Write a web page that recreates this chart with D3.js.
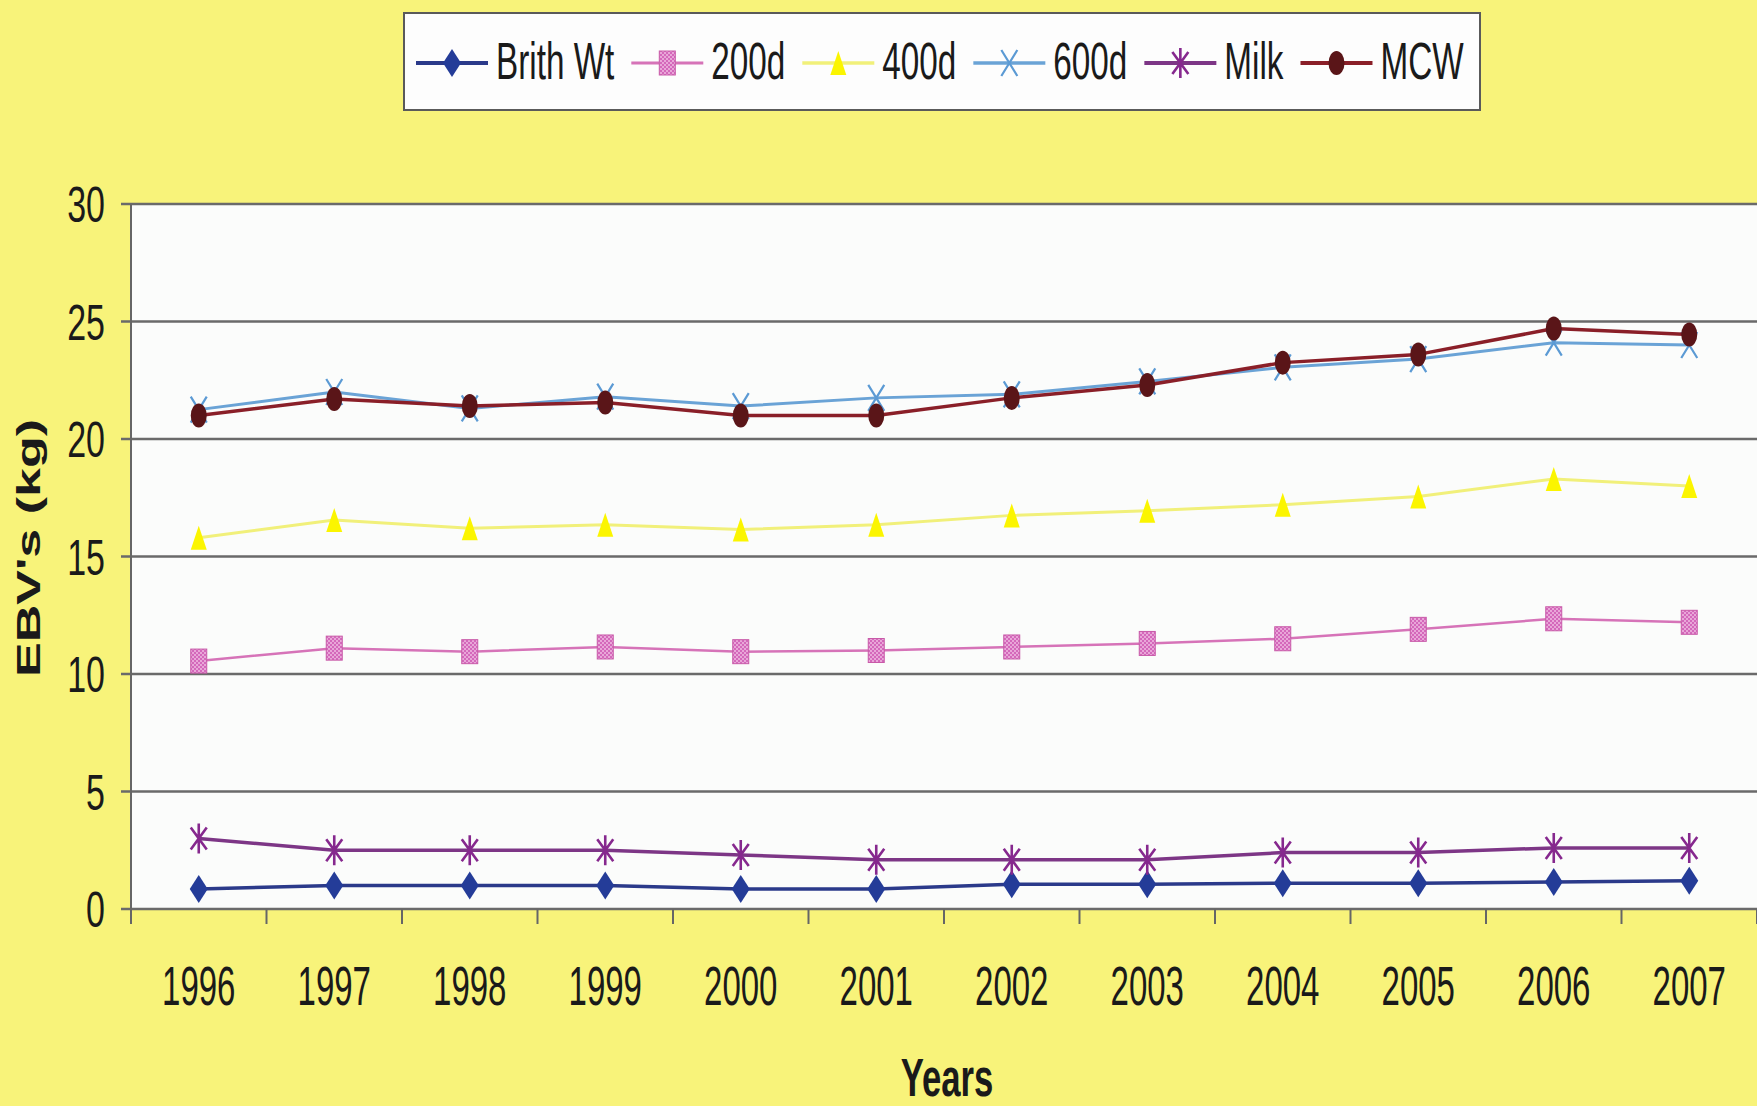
<!DOCTYPE html>
<html>
<head>
<meta charset="utf-8">
<script src="https://cdn.jsdelivr.net/npm/d3@7"></script>
<style>
  html, body { margin: 0; padding: 0; background: #f8f37c; }
  svg { display: block; }
  text { font-family: "Liberation Sans", Arial, sans-serif; fill: #1a1a1a; }
</style>
</head>
<body>
<script>
// ---------- data ----------
const years = ['1996','1997','1998','1999','2000','2001','2002','2003','2004','2005','2006','2007'];
const brithWt = [0.85, 1.0, 1.0, 1.0, 0.85, 0.85, 1.05, 1.05, 1.1, 1.1, 1.15, 1.2];
const d200   = [10.55, 11.1, 10.95, 11.15, 10.95, 11.0, 11.15, 11.3, 11.5, 11.9, 12.35, 12.2];
const d400   = [15.8, 16.55, 16.2, 16.35, 16.15, 16.35, 16.75, 16.95, 17.2, 17.55, 18.3, 18.0];
const d600   = [21.25, 22.0, 21.3, 21.8, 21.4, 21.75, 21.9, 22.45, 23.05, 23.4, 24.1, 24.0];
const milk   = [3.0, 2.5, 2.5, 2.5, 2.3, 2.1, 2.1, 2.1, 2.4, 2.4, 2.6, 2.6];
const mcw    = [21.0, 21.7, 21.4, 21.55, 21.0, 21.0, 21.75, 22.3, 23.25, 23.6, 24.7, 24.45];
const seriesNames = ['Brith Wt', '200d', '400d', '600d', 'Milk', 'MCW'];
const yTicks = [0, 5, 10, 15, 20, 25, 30];
const xTitle = 'Years';
const yTitle = "EBV's (kg)";

// ---------- styles ----------
const seriesData = [brithWt, d200, d400, d600, milk, mcw];
const styles = [
  { line: '#2b3a8a', mark: '#243c98', shape: 'diamond', lw: 3.5 },
  { line: '#d673b8', mark: '#cf62b4', shape: 'square',  lw: 2.5 },
  { line: '#f1f07a', mark: '#fbf500', shape: 'triangle', lw: 3 },
  { line: '#6aa3d6', mark: '#5b9ad4', shape: 'x',       lw: 3 },
  { line: '#7d3686', mark: '#86288e', shape: 'asterisk', lw: 3.5 },
  { line: '#8a1f28', mark: '#5a1518', shape: 'circle',  lw: 3.5 }
];

const W = 1757, H = 1106;
const svg = d3.select('body').append('svg').attr('width', W).attr('height', H);
svg.append('rect').attr('width', W).attr('height', H).attr('fill', '#f8f37a');

const x = d3.scaleBand().domain(years).range([131, 1757]).padding(0);
const bw = x.bandwidth();
const y = d3.scaleLinear().domain([0, 30]).range([909, 204]);
const cx = (i) => x(years[i]) + bw / 2;

// plot area
svg.append('rect')
  .attr('x', x.range()[0]).attr('y', y(30))
  .attr('width', x.range()[1] - x.range()[0]).attr('height', y(0) - y(30))
  .attr('fill', '#fbfcfb');

// gridlines (with outward tick)
svg.append('g').selectAll('line').data(yTicks).join('line')
  .attr('x1', x.range()[0] - 10).attr('x2', x.range()[1])
  .attr('y1', d => y(d)).attr('y2', d => y(d))
  .attr('stroke', '#6a6a6a').attr('stroke-width', 2.5);

// y axis line
svg.append('line')
  .attr('x1', x.range()[0]).attr('x2', x.range()[0])
  .attr('y1', y(30)).attr('y2', y(0) + 15)
  .attr('stroke', '#666').attr('stroke-width', 2);

// x tick marks at category boundaries
const bounds = years.map(d => x(d)).concat([x.range()[1]]);
svg.append('g').selectAll('line').data(bounds).join('line')
  .attr('x1', d => d).attr('x2', d => d)
  .attr('y1', y(0)).attr('y2', y(0) + 15)
  .attr('stroke', '#666').attr('stroke-width', 2);

// y labels
svg.append('g').selectAll('text').data(yTicks).join('text')
  .attr('transform', d => `translate(105,${y(d)}) scale(0.68,1)`)
  .attr('y', 18)
  .attr('text-anchor', 'end')
  .attr('font-size', 50)
  .text(d => d);

// x labels
svg.append('g').selectAll('text').data(years).join('text')
  .attr('transform', d => `translate(${x(d) + bw / 2},1005) scale(0.6,1)`)
  .attr('text-anchor', 'middle')
  .attr('font-size', 55)
  .text(d => d);

// axis titles
svg.append('text')
  .attr('transform', `translate(${(x.range()[0] + x.range()[1]) / 2 + 3},1096) scale(0.655,1)`)
  .attr('text-anchor', 'middle')
  .attr('font-size', 53).attr('font-weight', 'bold')
  .text(xTitle);

svg.append('text')
  .attr('transform', `translate(40,548) rotate(-90) scale(1,0.65)`)
  .attr('text-anchor', 'middle')
  .attr('font-size', 52).attr('font-weight', 'bold')
  .text(yTitle);

// pattern for 200d markers
const defs = svg.append('defs');
const pat = defs.append('pattern').attr('id', 'chk').attr('width', 4).attr('height', 4)
  .attr('patternUnits', 'userSpaceOnUse');
pat.append('rect').attr('width', 4).attr('height', 4).attr('fill', '#d468bb');
pat.append('rect').attr('width', 2).attr('height', 2).attr('fill', '#e9a6d8');
pat.append('rect').attr('x', 2).attr('y', 2).attr('width', 2).attr('height', 2).attr('fill', '#e9a6d8');

// marker drawing
function drawMarker(g, st, px, py) {
  const c = st.mark;
  switch (st.shape) {
    case 'diamond': {
      const a = 9, b = 14;
      g.append('path').attr('d', `M${px},${py - b}L${px + a},${py}L${px},${py + b}L${px - a},${py}Z`)
        .attr('fill', c);
      break;
    }
    case 'square': {
      const a = 8, b = 12;
      g.append('rect').attr('x', px - a).attr('y', py - b).attr('width', 2 * a).attr('height', 2 * b)
        .attr('fill', 'url(#chk)').attr('stroke', '#c85aa8').attr('stroke-width', 1);
      break;
    }
    case 'triangle': {
      const a = 8, b = 12;
      g.append('path').attr('d', `M${px},${py - b}L${px + a},${py + b}L${px - a},${py + b}Z`)
        .attr('fill', c);
      break;
    }
    case 'x': {
      const a = 8, b = 13;
      g.append('path').attr('d', `M${px - a},${py - b}L${px + a},${py + b}M${px + a},${py - b}L${px - a},${py + b}`)
        .attr('stroke', c).attr('stroke-width', 2.2).attr('fill', 'none');
      break;
    }
    case 'asterisk': {
      const a = 8, b = 11, v = 15;
      g.append('path').attr('d', `M${px - a},${py - b}L${px + a},${py + b}M${px + a},${py - b}L${px - a},${py + b}M${px},${py - v}L${px},${py + v}`)
        .attr('stroke', c).attr('stroke-width', 2.6).attr('fill', 'none');
      break;
    }
    case 'circle': {
      g.append('ellipse').attr('cx', px).attr('cy', py).attr('rx', 8).attr('ry', 12).attr('fill', c);
      break;
    }
  }
}

// series
const lineGen = d3.line().x((d, i) => cx(i)).y(d => y(d));
seriesData.forEach((vals, si) => {
  const st = styles[si];
  const g = svg.append('g');
  g.append('path').datum(vals).attr('d', lineGen)
    .attr('fill', 'none').attr('stroke', st.line).attr('stroke-width', st.lw)
    .attr('stroke-linejoin', 'round');
  vals.forEach((v, i) => drawMarker(g, st, cx(i), y(v)));
});

// legend
const lg = svg.append('g');
lg.append('rect').attr('x', 404).attr('y', 13).attr('width', 1076).attr('height', 97)
  .attr('fill', '#fdfdfd').attr('stroke', '#5a5a5a').attr('stroke-width', 2);
let lx = 416;
const ly = 63;
const ls = 0.64;
seriesNames.forEach((name, si) => {
  const st = styles[si];
  lg.append('line').attr('x1', lx).attr('x2', lx + 72).attr('y1', ly).attr('y2', ly)
    .attr('stroke', st.line).attr('stroke-width', st.lw + 0.5);
  drawMarker(lg, st, lx + 36, ly);
  const t = lg.append('text')
    .attr('transform', `translate(${lx + 80},79) scale(${ls},1)`)
    .attr('font-size', 52)
    .text(name);
  const tw = t.node().getComputedTextLength() * ls;
  lx += 72 + 8 + tw + 17;
});
</script>
</body>
</html>
